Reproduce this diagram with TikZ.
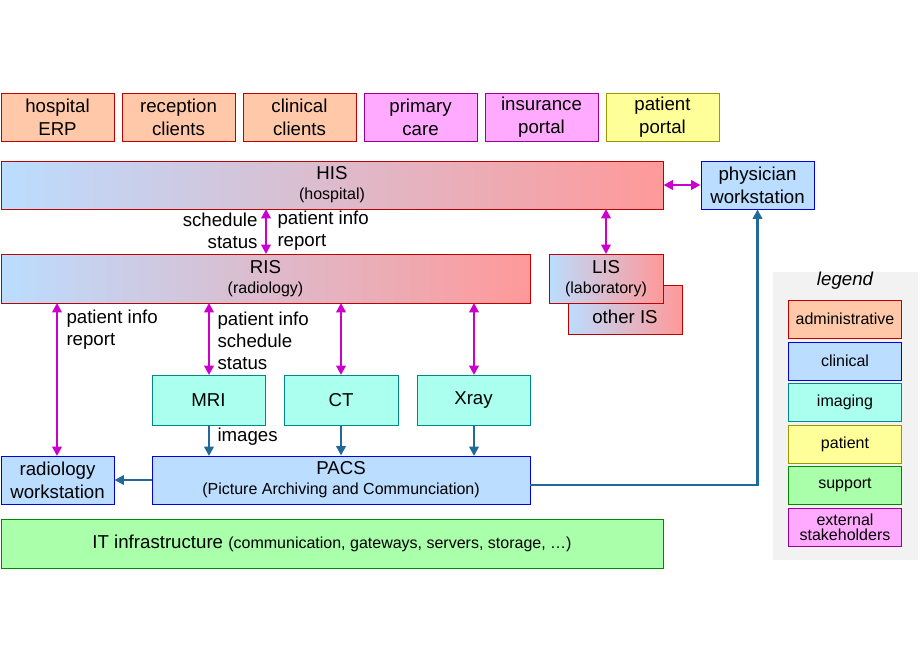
\documentclass[tikz,border=0pt]{standalone}
\usepackage{fontspec}
\setmainfont{Liberation Sans}
\usetikzlibrary{positioning,arrows.meta}
\definecolor{admfill}{HTML}{FFC8A8}\definecolor{admdraw}{HTML}{C00000}
\definecolor{clinfill}{HTML}{BBDDFF}\definecolor{clindraw}{HTML}{0000E0}
\definecolor{imgfill}{HTML}{AAFFEE}\definecolor{imgdraw}{HTML}{008888}
\definecolor{patfill}{HTML}{FFFF99}\definecolor{patdraw}{HTML}{999900}
\definecolor{supfill}{HTML}{AAFFAA}\definecolor{supdraw}{HTML}{008800}
\definecolor{extfill}{HTML}{FFAAFF}\definecolor{extdraw}{HTML}{990099}
\definecolor{gradr}{HTML}{FF9999}
\definecolor{linkm}{HTML}{CC00CC}\definecolor{linkb}{HTML}{1F6A9A}
\tikzset{every picture/.style={line width=0.75pt},
  box/.style={draw, inner sep=0pt, align=center, font=\fontsize{14}{17}\selectfont},
  adm/.style={box, fill=admfill, draw=admdraw},
  clin/.style={box, fill=clinfill, draw=clindraw},
  img/.style={box, fill=imgfill, draw=imgdraw},
  pat/.style={box, fill=patfill, draw=patdraw},
  sup/.style={box, fill=supfill, draw=supdraw},
  ext/.style={box, fill=extfill, draw=extdraw},
  grad/.style={box, left color=clinfill, right color=gradr, draw=admdraw},
  lgd/.style={box, font=\fontsize{12}{14}\selectfont, minimum width=113*0.75pt, minimum height=38*0.75pt},
  msg/.style={font=\fontsize{14}{16.5}\selectfont, align=left, inner sep=0pt},
  both/.style={{Triangle[width=7pt,length=7pt]}-{Triangle[width=7pt,length=7pt]}, draw=linkm, line width=2pt},
  flow/.style={-{Triangle[width=7pt,length=7pt]}, draw=linkb, line width=2pt}}
\newcommand{\subtxt}{\fontsize{12}{13}\selectfont}
\newcommand{\boxat}[6]{\node[#1, minimum width=(#4-#2)*0.75pt, minimum height=(#5-#3)*0.75pt] (#6) at ({(#2+#4)/2},{(#3+#5)/2})}
\begin{document}
\begin{tikzpicture}[x=0.75pt,y=0.75pt,yscale=-1,xscale=1]
\useasboundingbox (0,0) rectangle (920,660);

% top row
\boxat{adm}{1}{93}{114}{141}{erp} {hospital\\ERP};
\boxat{adm}{122}{93}{235}{141}{recep} {reception\\clients};
\boxat{adm}{243}{93}{356}{141}{clinc} {clinical\\clients};
\boxat{ext}{364}{93}{477}{141}{prim} {primary\\care};
\boxat{ext}{485}{93}{598}{141}{insur} {insurance\\portal};
\boxat{pat}{606}{93}{719}{141}{ppor} {patient\\portal};

% information systems
\boxat{grad}{1}{161}{663}{209}{his} {HIS\\[-2pt]{\subtxt (hospital)}};
\boxat{clin}{701}{161}{814}{209}{phys} {physician\\workstation};
\boxat{grad}{1}{254}{530}{303}{ris} {RIS\\[-2pt]{\subtxt (radiology)}};
\boxat{grad}{568}{285}{682}{334}{oth} {\\[4pt]other IS};
\boxat{grad}{549}{254}{663}{303}{lis} {LIS\\[-2pt]{\subtxt (laboratory)}};

% modalities
\boxat{img}{152}{375}{265}{425}{mri} {MRI};
\boxat{img}{284}{375}{398}{425}{ct} {CT};
\boxat{img}{417}{375}{530}{425}{xray} {Xray};
\boxat{clin}{1}{456}{114}{504}{rws} {radiology\\workstation};
\boxat{clin}{152}{456}{530}{504}{pacs} {PACS\\[-2pt]{\subtxt (Picture Archiving and Communciation)}};
\boxat{sup}{1}{519}{663}{568}{it} {IT infrastructure {\subtxt (communication, gateways, servers, storage, \dots)}};

% connectors
\draw[both] (266,209) -- (266,254);
\node[msg, align=right, anchor=east] (lhr) at (258,231) {schedule\\status};
\node[msg, anchor=west] (rhr) at (277,231) {patient info\\report};
\draw[both] (606,209) -- (606,254);
\draw[both] (his.east) -- (phys.west);
\draw[both] (57,303) -- (57,456);
\node[msg, anchor=west] (lrw) at (66,330) {patient info\\report};
\draw[both] (209,303) -- (209,375);
\node[msg, anchor=west] (lrm) at (217,341) {patient info\\schedule\\status};
\draw[both] (341,303) -- (341,375);
\draw[both] (474,303) -- (474,375);
\draw[flow] (209,425) -- (209,456);
\node[msg, anchor=west] (limg) at (217,437) {images};
\draw[flow] (ct.south) -- (ct.south |- pacs.north);
\draw[flow] (474,425) -- (474,456);
\draw[flow] (pacs.west) -- (rws.east);
\draw[flow] (530,485) -| (phys.south);

% legend
\fill[black!5] (773,272) rectangle (918,560);
\node[font=\fontsize{14}{16}\selectfont\itshape] (lgt) at (845,281) {legend};
\node[adm, lgd] (l1) at (845,319) {administrative};
\node[clin, lgd] (l2) at (845,361) {clinical};
\node[img, lgd] (l3) at (845,402) {imaging};
\node[pat, lgd] (l4) at (845,444) {patient};
\node[sup, lgd] (l5) at (845,485) {support};
\node[ext, lgd] (l6) at (845,527) {external\\[-3pt]stakeholders};
\end{tikzpicture}
\end{document}
